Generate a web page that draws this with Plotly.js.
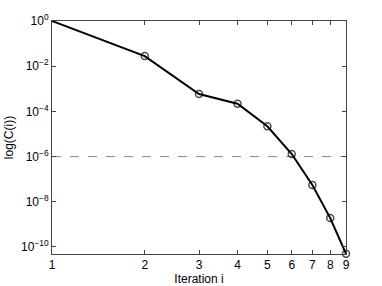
<!DOCTYPE html>
<html>
<head>
<meta charset="utf-8">
<script src="https://cdn.plot.ly/plotly-2.35.2.min.js"></script>
<style>html,body{margin:0;padding:0;background:#fff;}#chart{width:382px;height:286px;}</style>
</head>
<body>
<div id="chart"></div>
<script>
const iterations = [1, 2, 3, 4, 5, 6, 7, 8, 9];
const costValues = [1, 0.028, 5.9e-4, 2.2e-4, 2.2e-5, 1.3e-6, 5.5e-8, 1.9e-9, 5e-11];
const threshold = 1e-6;
const xTickVals = [1, 2, 3, 4, 5, 6, 7, 8, 9];
const xTickText = ['1', '2', '3', '4', '5', '6', '7', '8', '9'];
const yTickVals = [1, 1e-2, 1e-4, 1e-6, 1e-8, 1e-10];
const yTickText = ['10<sup>0</sup>', '10<sup>−2</sup>', '10<sup>−4</sup>', '10<sup>−6</sup>', '10<sup>−8</sup>', '10<sup>−10</sup>'];

const markerSizes = iterations.map((v, i) => i === 0 ? 0 : 7);

const traces = [
  {
    x: [iterations[0], iterations[iterations.length - 1]],
    y: [threshold, threshold],
    mode: 'lines',
    line: {color: '#888', width: 1, dash: 'dash'},
    hoverinfo: 'skip',
    showlegend: false
  },
  {
    x: iterations,
    y: costValues,
    mode: 'lines+markers',
    line: {color: '#000', width: 2},
    marker: {symbol: 'circle-open', size: markerSizes, color: '#000', line: {width: 1.5, color: '#000'}},
    cliponaxis: false,
    showlegend: false
  }
];

const axisCommon = {
  showgrid: false,
  zeroline: false,
  showline: true,
  linecolor: '#444',
  linewidth: 1,
  mirror: 'ticks',
  ticks: 'inside',
  ticklen: 4,
  tickcolor: '#444',
  tickfont: {family: 'Liberation Sans, Arial, sans-serif', size: 12, color: '#000'}
};

const layout = {
  width: 382,
  height: 286,
  margin: {l: 52, r: 36, t: 21, b: 32},
  paper_bgcolor: '#fff',
  plot_bgcolor: '#fff',
  font: {family: 'Liberation Sans, Arial, sans-serif', size: 12, color: '#000'},
  xaxis: Object.assign({}, axisCommon, {
    type: 'log',
    range: [0, Math.log10(9)],
    tickmode: 'array',
    tickvals: xTickVals,
    ticktext: xTickText,
    title: {text: 'Iteration i', standoff: 0, font: {size: 12}}
  }),
  yaxis: Object.assign({}, axisCommon, {
    type: 'log',
    range: [-10.31, 0],
    tickmode: 'array',
    tickvals: yTickVals,
    ticktext: yTickText,
    title: {text: 'log(C(i))', standoff: 4, font: {size: 12}}
  })
};

Plotly.newPlot('chart', traces, layout, {displayModeBar: false, staticPlot: true});
</script>
</body>
</html>
